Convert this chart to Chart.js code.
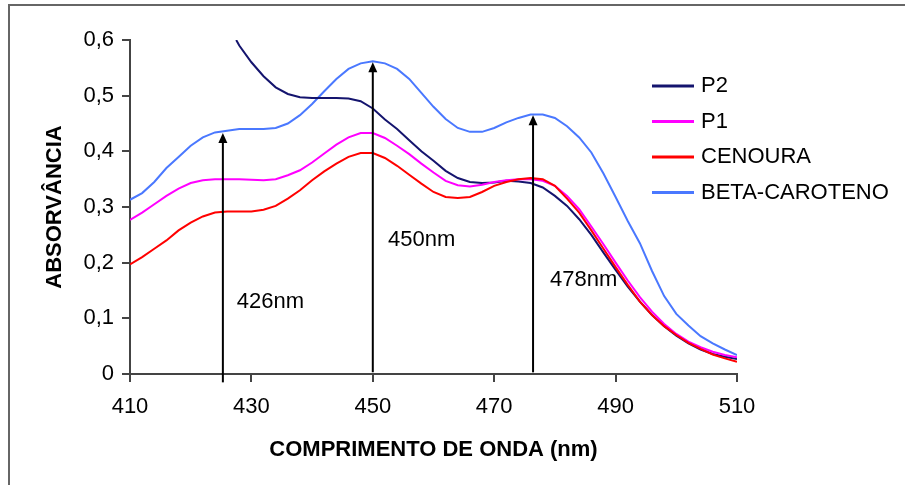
<!DOCTYPE html>
<html>
<head>
<meta charset="utf-8">
<script src="https://cdn.jsdelivr.net/npm/chart.js@4"></script>
<style>
  html, body { margin: 0; padding: 0; background: #fff; }
  #wrap { position: relative; width: 905px; height: 485px; }
  #frame { position: absolute; left: 8px; top: 4px; width: 905px; height: 490px;
           border-top: 2px solid #666; border-left: 2px solid #666; box-sizing: border-box; pointer-events: none; }
  canvas { position: absolute; left: 0; top: 0; }
</style>
</head>
<body>
<div id="wrap">
  <canvas id="c" width="905" height="485"></canvas>
  <div id="frame"></div>
</div>
<script>
// ---- data ----
const wavelengths = [410,412,414,416,418,420,422,424,426,428,430,432,434,436,438,440,442,444,446,448,450,452,454,456,458,460,462,464,466,468,470,472,474,476,478,480,482,484,486,488,490,492,494,496,498,500,502,504,506,508,510];
const betaCaroteno = [0.313,0.325,0.345,0.370,0.390,0.410,0.425,0.434,0.437,0.440,0.440,0.440,0.442,0.450,0.465,0.485,0.508,0.530,0.548,0.558,0.562,0.558,0.548,0.530,0.505,0.480,0.458,0.442,0.435,0.435,0.442,0.452,0.460,0.466,0.466,0.460,0.445,0.425,0.398,0.360,0.318,0.275,0.235,0.185,0.140,0.108,0.087,0.068,0.055,0.044,0.034];
const p1 = [0.277,0.290,0.305,0.320,0.333,0.343,0.348,0.350,0.350,0.350,0.349,0.348,0.350,0.357,0.366,0.380,0.396,0.412,0.425,0.433,0.433,0.424,0.410,0.395,0.378,0.362,0.347,0.339,0.337,0.340,0.345,0.348,0.350,0.350,0.347,0.338,0.320,0.296,0.265,0.233,0.200,0.168,0.138,0.112,0.090,0.072,0.058,0.048,0.040,0.034,0.030];
const cenoura = [0.197,0.210,0.225,0.240,0.258,0.272,0.283,0.290,0.292,0.292,0.292,0.295,0.302,0.315,0.330,0.348,0.364,0.378,0.390,0.397,0.397,0.388,0.374,0.358,0.342,0.327,0.318,0.316,0.318,0.327,0.338,0.345,0.350,0.352,0.350,0.338,0.315,0.290,0.258,0.225,0.192,0.160,0.130,0.106,0.086,0.070,0.056,0.045,0.035,0.028,0.022];
const p2Wavelengths = [427.5,428,430,432,434,436,438,440,442,444,446,448,450,452,454,456,458,460,462,464,466,468,470,472,474,476,478,480,482,484,486,488,490,492,494,496,498,500,502,504,506,508,510];
const p2 = [0.600,0.590,0.560,0.535,0.515,0.503,0.497,0.496,0.496,0.496,0.495,0.490,0.477,0.457,0.440,0.420,0.400,0.383,0.365,0.352,0.345,0.343,0.344,0.347,0.346,0.343,0.335,0.320,0.302,0.278,0.250,0.218,0.187,0.157,0.130,0.106,0.086,0.069,0.055,0.044,0.036,0.031,0.027];

const seriesNames = ['P2', 'P1', 'CENOURA', 'BETA-CAROTENO'];
const xTicks = [410, 430, 450, 470, 490, 510];
const yTicks = [0, 0.1, 0.2, 0.3, 0.4, 0.5, 0.6];

// peak markers (arrows) and their labels
const arrowNm = [425.3, 450, 476.4];
const arrowTop = [0.433, 0.560, 0.465];
const arrowBottom = [-0.015, 0.003, 0.003];
const peakLabels = ['426nm', '450nm', '478nm'];
const peakLabelNm = [427.6, 452.5, 479.2];
const peakLabelAbs = [0.129, 0.241, 0.169];

const colors = ['#14146e', '#ff00ff', '#ff0000', '#4a78ff'];
const FONT = '"Liberation Sans", Arial, sans-serif';

function pts(xs, ys) { return xs.map((x, i) => ({x: x, y: ys[i]})); }

const datasets = [
  {label: seriesNames[0], data: pts(p2Wavelengths, p2), borderColor: colors[0], order: 2},
  {label: seriesNames[1], data: pts(wavelengths, p1), borderColor: colors[1], order: 1},
  {label: seriesNames[2], data: pts(wavelengths, cenoura), borderColor: colors[2], order: 0},
  {label: seriesNames[3], data: pts(wavelengths, betaCaroteno), borderColor: colors[3], order: 3}
].map(d => Object.assign(d, {borderWidth: 2, pointRadius: 0, fill: false, tension: 0}));

const annotations = {
  id: 'annotations',
  afterDatasetsDraw(chart) {
    const ctx = chart.ctx, xs = chart.scales.x, ys = chart.scales.y;
    ctx.save();
    ctx.strokeStyle = '#000'; ctx.fillStyle = '#000'; ctx.lineWidth = 2;
    for (let i = 0; i < arrowNm.length; i++) {
      const x = xs.getPixelForValue(arrowNm[i]);
      const yt = ys.getPixelForValue(arrowTop[i]);
      const yb = ys.getPixelForValue(arrowBottom[i]);
      ctx.beginPath(); ctx.moveTo(x, yb); ctx.lineTo(x, yt + 6); ctx.stroke();
      ctx.beginPath(); ctx.moveTo(x, yt); ctx.lineTo(x - 4.5, yt + 10); ctx.lineTo(x + 4.5, yt + 10); ctx.closePath(); ctx.fill();
    }
    ctx.font = '22px ' + FONT; ctx.textAlign = 'left'; ctx.textBaseline = 'middle';
    for (let i = 0; i < peakLabels.length; i++) {
      ctx.fillText(peakLabels[i], xs.getPixelForValue(peakLabelNm[i]), ys.getPixelForValue(peakLabelAbs[i]));
    }
    // legend
    const lx = 652, ly = 86, gap = 35.5;
    ctx.font = '22px ' + FONT;
    seriesNames.forEach((name, i) => {
      const y = ly + i * gap;
      ctx.strokeStyle = colors[i]; ctx.lineWidth = 3;
      ctx.beginPath(); ctx.moveTo(lx, y); ctx.lineTo(lx + 42, y); ctx.stroke();
      ctx.fillStyle = '#000';
      ctx.fillText(name, lx + 49, y);
    });
    ctx.restore();
  }
};

new Chart(document.getElementById('c'), {
  type: 'line',
  data: {datasets: datasets},
  options: {
    responsive: false,
    animation: false,
    layout: {padding: {left: 0, top: 40, right: 168, bottom: 0}},
    plugins: {legend: {display: false}, tooltip: {enabled: false}},
    scales: {
      x: {
        type: 'linear', min: 410, max: 510,
        afterBuildTicks: s => { s.ticks = xTicks.map(v => ({value: v})); },
        afterFit: s => { s.height = 111; },
        ticks: {color: '#000', font: {family: FONT, size: 22}, padding: 12},
        grid: {drawOnChartArea: false, drawTicks: true, tickLength: 8, color: '#444', lineWidth: 2},
        border: {display: true, color: '#444', width: 2},
        title: {display: true, text: 'COMPRIMENTO DE ONDA (nm)', color: '#000',
                font: {family: FONT, size: 22, weight: 'bold'}, padding: {top: 22, bottom: 22}}
      },
      y: {
        type: 'linear', min: 0, max: 0.6,
        afterBuildTicks: s => { s.ticks = yTicks.map(v => ({value: v})); },
        afterFit: s => { s.width = 130; },
        ticks: {color: '#000', font: {family: FONT, size: 22}, padding: 8,
                callback: v => (v === 0 ? '0' : v.toFixed(1).replace('.', ','))},
        grid: {drawOnChartArea: false, drawTicks: true, tickLength: 8, color: '#444', lineWidth: 2},
        border: {display: true, color: '#444', width: 2},
        title: {display: true, text: 'ABSORVÂNCIA', color: '#000',
                font: {family: FONT, size: 22, weight: 'bold'}, padding: {top: 42, bottom: 0}}
      }
    }
  },
  plugins: [annotations]
});
</script>
</body>
</html>
